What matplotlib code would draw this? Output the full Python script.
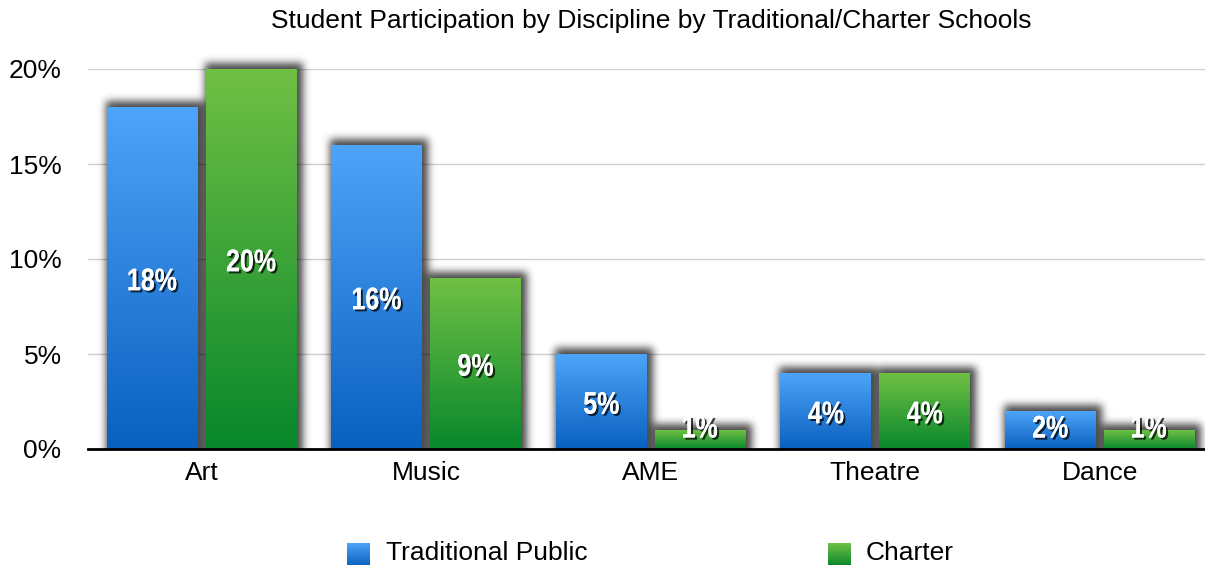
import numpy as np
import matplotlib
matplotlib.use('Agg')
import matplotlib.pyplot as plt
import matplotlib.patheffects as pe
from matplotlib.patches import PathPatch
from matplotlib.colors import LinearSegmentedColormap
from matplotlib.textpath import TextPath
from matplotlib.font_manager import FontProperties
from matplotlib.transforms import Affine2D

categories = ['Art', 'Music', 'AME', 'Theatre', 'Dance']
series_names = ['Traditional Public', 'Charter']
traditional = [18, 16, 5, 4, 2]
charter = [20, 9, 1, 4, 1]
yticks = [0, 5, 10, 15, 20]

blue = ('#0a60bf', '#4da4f8')   # bottom, top
green = ('#08872c', '#70c044')

W, H = 1205, 565
DPI = 100
plt.rcParams['font.family'] = ['Liberation Sans', 'DejaVu Sans']
fig = plt.figure(figsize=(W / DPI, H / DPI), dpi=DPI)
ax = fig.add_axes([88 / W, 1 - 449 / H, 1 - 88 / W, (449 - 69) / H])
xlim = (-0.507, 4.469)
ylim = (0, 20)
ax.set_xlim(*xlim)
ax.set_ylim(*ylim)

py = (ylim[1] - ylim[0]) / (449 - 69)   # data units per pixel (y)

grad = np.linspace(1, 0, 256).reshape(-1, 1)
width = 0.405
offset = 0.22
x = np.arange(len(categories))
label_font = FontProperties(family='Liberation Sans', weight='bold')


def condensed_label(xc, yc, s):
    # bold text squeezed horizontally to look like a condensed face
    tp = TextPath((0, 0), s, size=22.5, prop=label_font)
    bb = tp.get_extents()
    cx, cy = (bb.x0 + bb.x1) / 2, (bb.y0 + bb.y1) / 2
    dx, dy = ax.transData.transform((xc, yc))
    tr = Affine2D().translate(-cx, -cy).scale(0.8 * DPI / 72, DPI / 72).translate(dx, dy)
    p = PathPatch(tr.transform_path(tp), transform=None, facecolor='white', lw=0, zorder=4)
    p.set_path_effects([pe.withSimplePatchShadow(offset=(1.5, -1.5), shadow_rgbFace='black', alpha=0.75),
                        pe.Normal()])
    fig.add_artist(p)


def blur(a, sigma):
    r = int(3 * sigma)
    k = np.exp(-0.5 * (np.arange(-r, r + 1) / sigma) ** 2)
    k /= k.sum()
    a = np.apply_along_axis(lambda m: np.convolve(m, k, mode='same'), 0, a)
    return np.apply_along_axis(lambda m: np.convolve(m, k, mode='same'), 1, a)


# mask of all bars in figure pixels, used for the drop shadow
mask = np.zeros((H, W))
for vals, cols, off in [(traditional, blue, -offset), (charter, green, offset)]:
    cmap = LinearSegmentedColormap.from_list('g', list(cols))
    bars = ax.bar(x + off, vals, width, color='none', zorder=2)
    for b, v in zip(bars, vals):
        x0, x1 = b.get_x(), b.get_x() + b.get_width()
        ax.imshow(grad, cmap=cmap, extent=(x0, x1, 0, v), aspect='auto', zorder=2,
                  interpolation='bilinear')
        (px0, py0), (px1, py1) = ax.transData.transform([(x0, -2), (x1, v)])
        r0, r1 = int(round(H - py1)) - 6, int(round(H - py0))
        c0, c1 = int(round(px0)) - 1, int(round(px1)) + 6
        mask[max(r0, 0):min(r1, H), max(c0, 0):min(c1, W)] = 1

ax.set_xlim(*xlim)
ax.set_ylim(*ylim)

shadow = blur(mask, 4.0) * 0.72
axis_row = int(round(H - ax.transData.transform((0, 0))[1]))
shadow[axis_row:, :] = 0
rgba = np.zeros((H, W, 4))
rgba[..., 3] = shadow
(ex0, ey0), (ex1, ey1) = ax.transData.inverted().transform([(0, 0), (W, H)])
ax.imshow(rgba, extent=(ex0, ex1, ey0, ey1), origin='upper', aspect='auto',
          zorder=1.5, clip_on=False, interpolation='nearest')
ax.set_xlim(*xlim)
ax.set_ylim(*ylim)

for vals, off in [(traditional, -offset), (charter, offset)]:
    for xi, v in zip(x + off, vals):
        condensed_label(xi, max(v / 2, 1.25) - 1.5 * py, f'{v}%')

ax.set_xticks(x)
ax.set_xticklabels(categories, fontsize=19)
ax.set_yticks(yticks)
ax.set_yticklabels([f'{t}%' for t in yticks], fontsize=19)
ax.tick_params(axis='y', length=0, pad=19)
ax.tick_params(axis='x', length=0, pad=9)
ax.yaxis.grid(True, color='#cfcfcf', lw=1)
ax.set_axisbelow(True)
for s in ['top', 'right', 'left']:
    ax.spines[s].set_visible(False)
ax.spines['bottom'].set_linewidth(2)
ax.spines['bottom'].set_zorder(5)

fig.text(651 / W, 1 - 21 / H, 'Student Participation by Discipline by Traditional/Charter Schools',
         ha='center', va='center', fontsize=19)

# legend
for name, cols, sx, tx in [(series_names[0], blue, 347, 386), (series_names[1], green, 828, 866)]:
    lax = fig.add_axes([sx / W, 1 - 566 / H, 23 / W, 23 / H])
    lax.imshow(grad, cmap=LinearSegmentedColormap.from_list('g', list(cols)), aspect='auto')
    lax.axis('off')
    fig.text(tx / W, 1 - 553 / H, name, ha='left', va='center', fontsize=19)

fig.savefig('out.png', dpi=DPI)
